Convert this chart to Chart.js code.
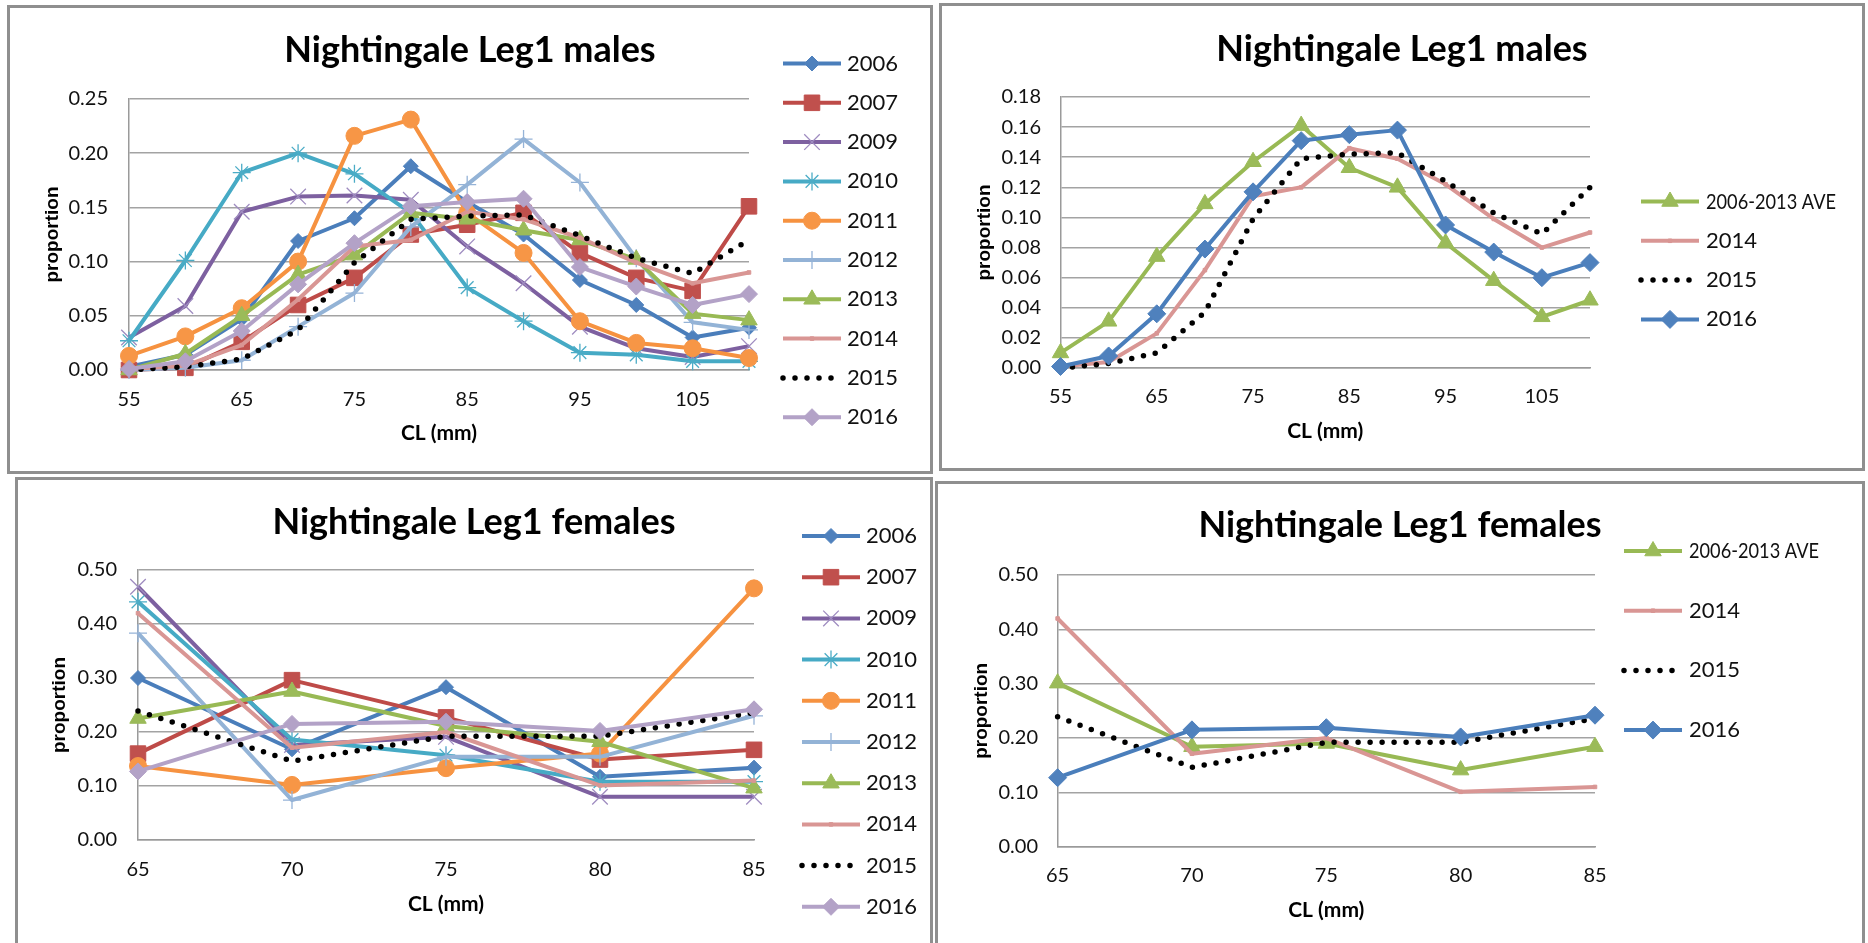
<!DOCTYPE html>
<html>
<head>
<meta charset="utf-8">
<script src="https://cdn.jsdelivr.net/npm/chart.js"></script>
<style>
  html, body { margin: 0; padding: 0; background: #fff; width: 1868px; height: 943px; overflow: hidden; }
  .panel { position: absolute; border: 3px solid #8f8f8f; box-sizing: border-box; background: #fff; }
  .panel canvas { position: absolute; left: 0; top: 0; }
</style>
</head>
<body>
<div class="panel" style="left:7px;top:5px;width:926px;height:469px"><canvas id="c1" width="920" height="463"></canvas></div>
<div class="panel" style="left:939px;top:3px;width:926px;height:468px"><canvas id="c2" width="920" height="462"></canvas></div>
<div class="panel" style="left:15px;top:477px;width:918px;height:472px"><canvas id="c3" width="912" height="463"></canvas></div>
<div class="panel" style="left:935px;top:481px;width:930px;height:468px"><canvas id="c4" width="924" height="459"></canvas></div>
<script>
// x categories (CL, mm)
const maleCL = ['55', '60', '65', '70', '75', '80', '85', '90', '95', '100', '105', '110'];
const femaleCL = ['65', '70', '75', '80', '85'];
const aveLabel = '2006-2013 AVE';

// males, proportion per CL class
const male2006 = [0.003, 0.014, 0.047, 0.119, 0.140, 0.188, 0.155, 0.125, 0.083, 0.060, 0.030, 0.039];
const male2007 = [0.000, 0.002, 0.026, 0.060, 0.085, 0.125, 0.134, 0.145, 0.108, 0.085, 0.073, 0.151];
const male2009 = [0.030, 0.059, 0.146, 0.160, 0.161, 0.157, 0.114, 0.080, 0.040, 0.020, 0.012, 0.022];
const male2010 = [0.027, 0.101, 0.182, 0.200, 0.181, 0.145, 0.076, 0.045, 0.016, 0.014, 0.008, 0.008];
const male2011 = [0.013, 0.031, 0.057, 0.100, 0.216, 0.231, 0.145, 0.108, 0.045, 0.025, 0.020, 0.011];
const male2012 = [0.000, 0.002, 0.009, 0.040, 0.071, 0.132, 0.171, 0.213, 0.173, 0.103, 0.044, 0.037];
const male2013 = [0.000, 0.015, 0.050, 0.088, 0.106, 0.145, 0.139, 0.129, 0.120, 0.102, 0.052, 0.046];
const male2014 = [0.001, 0.004, 0.023, 0.065, 0.114, 0.120, 0.146, 0.139, 0.122, 0.099, 0.080, 0.090];
const male2015 = [0.000, 0.003, 0.010, 0.037, 0.099, 0.139, 0.142, 0.143, 0.124, 0.103, 0.089, 0.120];
const male2016 = [0.001, 0.008, 0.036, 0.079, 0.117, 0.151, 0.155, 0.158, 0.095, 0.077, 0.060, 0.070];
const maleAve = [0.010, 0.031, 0.074, 0.109, 0.137, 0.161, 0.133, 0.120, 0.083, 0.058, 0.034, 0.045];

// females
const female2006 = [0.300, 0.168, 0.283, 0.117, 0.134];
const female2007 = [0.160, 0.296, 0.227, 0.149, 0.167];
const female2009 = [0.469, 0.176, 0.191, 0.080, 0.080];
const female2010 = [0.441, 0.186, 0.157, 0.108, 0.108];
const female2011 = [0.137, 0.102, 0.133, 0.160, 0.466];
const female2012 = [0.383, 0.074, 0.154, 0.154, 0.230];
const female2013 = [0.225, 0.275, 0.211, 0.182, 0.096];
const female2014 = [0.420, 0.171, 0.200, 0.101, 0.110];
const female2015 = [0.239, 0.146, 0.192, 0.192, 0.236];
const female2016 = [0.127, 0.215, 0.219, 0.202, 0.242];
const femaleAve = [0.301, 0.184, 0.190, 0.141, 0.184];

const FONT = 'Lato, "Liberation Sans", sans-serif';
Chart.defaults.font.family = FONT;

// excel-ish series looks
const looks = {
  '2006': { line: '#4A7EBB', point: 'rectRot', r: 7.5, fill: '#4F81BD' },
  '2007': { line: '#BE4B48', point: 'rect', r: 11, fill: '#C0504D' },
  '2009': { line: '#7D60A0', point: 'crossRot', r: 11, edge: '#9F8CC0', bw: 1.3 },
  '2010': { line: '#46AAC5', point: 'star', r: 9, edge: '#4BACC6', bw: 1.3 },
  '2011': { line: '#F69240', point: 'circle', r: 8.5, fill: '#F79646' },
  '2012': { line: '#93B3D6', point: 'cross', r: 9, edge: '#95B3D7', bw: 1.3 },
  '2013': { line: '#98B954', point: 'triangle', r: 9.5, fill: '#9BBB59' },
  '2014': { line: '#D99694', point: 'rect', r: 2.5, fill: '#D99694' },
  '2015': { line: '#000000', dash: [0, 12] },
  '2016': { line: '#B3A2C7', point: 'rectRot', r: 8.5, fill: '#B3A2C7' },
  ave:    { line: '#98B954', point: 'triangle', r: 9.5, fill: '#9BBB59' },
  '2016b': { line: '#4A7EBB', point: 'rectRot', r: 9, fill: '#4F81BD' }
};

function makeDataset(label, data, look, i, n) {
  return {
    label: label,
    data: data,
    borderColor: look.line,
    borderWidth: look.dash ? 5.5 : 4,
    borderDash: look.dash || [],
    borderCapStyle: look.dash ? 'round' : 'butt',
    borderJoinStyle: 'round',
    pointStyle: look.point || 'circle',
    pointRadius: look.r || 0,
    pointHoverRadius: look.r || 0,
    pointBackgroundColor: look.fill || look.line,
    pointBorderColor: look.edge || look.fill || look.line,
    pointBorderWidth: look.bw || 1,
    tension: 0,
    fill: false,
    clip: false,
    order: n - i
  };
}

// legend drawn like Excel: line sample with marker in the middle
const xlLegend = {
  id: 'xlLegend',
  afterDraw(chart, args, opts) {
    const ctx = chart.ctx;
    chart.data.datasets.forEach((ds, i) => {
      const cy = opts.y + i * opts.gap;
      ctx.save();
      ctx.strokeStyle = ds.borderColor;
      ctx.lineWidth = ds.borderWidth;
      ctx.setLineDash(ds.borderDash || []);
      ctx.lineCap = ds.borderCapStyle;
      ctx.beginPath();
      ctx.moveTo(opts.x, cy);
      ctx.lineTo(opts.x + opts.w, cy);
      ctx.stroke();
      ctx.setLineDash([]);
      if (ds.pointRadius > 0) {
        ctx.fillStyle = ds.pointBackgroundColor;
        ctx.strokeStyle = ds.pointBorderColor;
        ctx.lineWidth = ds.pointBorderWidth;
        Chart.helpers.drawPoint(ctx, {
          pointStyle: ds.pointStyle, radius: ds.pointRadius,
          borderWidth: ds.pointBorderWidth, rotation: 0
        }, opts.x + opts.w / 2, cy);
      }
      ctx.fillStyle = '#111';
      ctx.font = '22px ' + FONT;
      ctx.textBaseline = 'middle';
      ctx.textAlign = 'left';
      // Calibri in the original is narrower than Lato for the long label
      const tw = ctx.measureText(ds.label).width;
      if (tw > 100) ctx.fillText(ds.label, opts.textX, cy, 130);
      else ctx.fillText(ds.label, opts.textX, cy);
      ctx.restore();
    });
  }
};

// g holds the pixel layout of one panel (inside its border)
function makeChart(id, g, labels, datasets, yMax, yStep, titleText, labelEvery) {
  const titleLH = 36 * 1.2;
  const axisLH = 21 * 1.2;
  const tickLH = 20 * 1.2;
  return new Chart(document.getElementById(id), {
    type: 'line',
    data: { labels: labels, datasets: datasets },
    options: {
      responsive: false,
      animation: false,
      layout: { padding: 0 },
      plugins: {
        legend: { display: false },
        tooltip: { enabled: false },
        title: {
          display: true,
          text: titleText,
          color: '#000',
          font: { family: FONT, size: 36, weight: 'bold', lineHeight: 1.2 },
          padding: { top: g.titleCY - titleLH / 2, bottom: g.plot.t - g.titleCY - titleLH / 2 }
        },
        xlLegend: g.legend
      },
      scales: {
        x: {
          type: 'category',
          offset: false,
          grid: { display: false, drawTicks: false },
          border: { display: true, color: '#9a9a9a', width: 1.5 },
          ticks: {
            autoSkip: false, maxRotation: 0, minRotation: 0,
            padding: g.xTickCY - g.plot.b - tickLH / 2,
            color: '#111',
            font: { family: FONT, size: 20 },
            callback: function (v, i) { return i % labelEvery === 0 ? this.getLabelForValue(v) : ''; }
          },
          title: {
            display: true, text: 'CL (mm)', color: '#000',
            font: { family: FONT, size: 21, weight: 'bold' },
            padding: { top: 0, bottom: g.H - g.xTitleCY - axisLH / 2 }
          },
          afterFit(s) { s.height = g.H - g.plot.b; }
        },
        y: {
          min: 0, max: yMax,
          grid: { color: '#a3a3a3', lineWidth: 1.5, drawTicks: false },
          border: { display: true, color: '#9a9a9a', width: 1.5 },
          ticks: {
            stepSize: yStep,
            padding: g.plot.l - g.yTickR,
            color: '#111',
            font: { family: FONT, size: 20 },
            callback: v => v.toFixed(2)
          },
          title: {
            display: true, text: 'proportion', color: '#000',
            font: { family: '"Liberation Sans", Arial, sans-serif', size: 19, weight: 'bold' },
            padding: { top: g.yTitleCX - 19 * 1.2 / 2, bottom: 0 }
          },
          afterFit(s) { s.width = g.plot.l; }
        },
        gap: {
          type: 'linear', position: 'right', display: true,
          grid: { display: false, drawTicks: false },
          border: { display: false },
          ticks: { display: false },
          afterFit(s) { s.width = g.W - g.plot.r; }
        }
      }
    },
    plugins: [xlLegend]
  });
}

function leftSet(values) {
  const years = ['2006', '2007', '2009', '2010', '2011', '2012', '2013', '2014', '2015', '2016'];
  return years.map((y, i) => makeDataset(y, values[i], looks[y], i, years.length));
}

function rightSet(values) {
  const names = [aveLabel, '2014', '2015', '2016'];
  const keys = ['ave', '2014', '2015', '2016b'];
  return names.map((nm, i) => makeDataset(nm, values[i], looks[keys[i]], i, names.length));
}

makeChart('c1', {
  W: 920, H: 463, plot: { l: 119, r: 739, t: 91, b: 362 },
  titleCY: 42, yTickR: 98, yTitleCX: 43, xTickCY: 392, xTitleCY: 425,
  legend: { x: 773, w: 58, textX: 837, y: 55.5, gap: 39.3 }
}, maleCL, leftSet([male2006, male2007, male2009, male2010, male2011, male2012, male2013, male2014, male2015, male2016]),
  0.25, 0.05, 'Nightingale Leg1 males', 2);

makeChart('c2', {
  W: 920, H: 462, plot: { l: 118.5, r: 648, t: 91, b: 362 },
  titleCY: 43, yTickR: 99, yTitleCX: 42.5, xTickCY: 390.7, xTitleCY: 425.7,
  legend: { x: 699, w: 58, textX: 764, y: 195.5, gap: 39.3 }
}, maleCL, rightSet([maleAve, male2014, male2015, male2016]),
  0.18, 0.02, 'Nightingale Leg1 males', 2);

makeChart('c3', {
  W: 912, H: 463, plot: { l: 120, r: 736, t: 90, b: 360 },
  titleCY: 42, yTickR: 99, yTitleCX: 42, xTickCY: 390, xTitleCY: 424,
  legend: { x: 784, w: 58, textX: 848, y: 56, gap: 41.2 }
}, femaleCL, leftSet([female2006, female2007, female2009, female2010, female2011, female2012, female2013, female2014, female2015, female2016]),
  0.5, 0.1, 'Nightingale Leg1 females', 1);

makeChart('c4', {
  W: 924, H: 459, plot: { l: 119.6, r: 657, t: 91, b: 362.7 },
  titleCY: 41.7, yTickR: 100, yTitleCX: 43.6, xTickCY: 392, xTitleCY: 426,
  legend: { x: 686, w: 58, textX: 751, y: 67, gap: 59.7 }
}, femaleCL, rightSet([femaleAve, female2014, female2015, female2016]),
  0.5, 0.1, 'Nightingale Leg1 females', 1);
</script>
</body>
</html>
